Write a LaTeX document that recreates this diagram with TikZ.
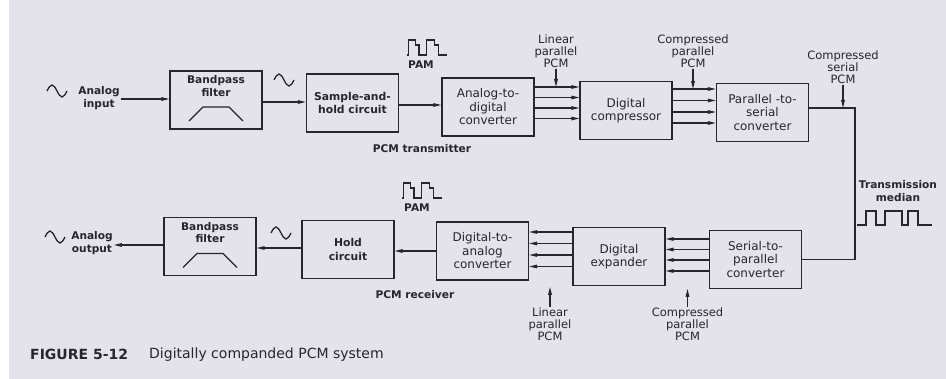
\documentclass[tikz,border=0pt]{standalone}
\usepackage{fontspec}
\setmainfont{DejaVu Sans}
\usetikzlibrary{arrows.meta,calc}
\definecolor{paper}{RGB}{228,226,234}
\definecolor{ink}{RGB}{38,38,46}
\tikzset{
  >={Triangle[length=8pt,width=3.6pt]},
  blk/.style={draw=ink,line width=1.4pt,minimum width=92pt,minimum height=58pt,inner sep=1pt,align=center,text=ink,font=\fontsize{12}{13.5}\selectfont},
  bblk/.style={blk,font=\fontsize{10.8}{13.5}\selectfont\bfseries},
  lab/.style={align=center,text=ink,inner sep=1pt,font=\fontsize{11.5}{12}\selectfont},
  blab/.style={lab,font=\fontsize{10.6}{12.8}\selectfont\bfseries},
  w/.style={draw=ink,line width=1.1pt},
  sg/.pic={\draw[ink,line width=1.3pt] (-10,0) sin (-5,-6) cos (0,0) sin (5,6) cos (10,0);},
  pam/.pic={\draw[ink,line width=1.2pt] (0,0)-|(1.6,-15)-|(9,-10)-|(12.3,0)-|(20,-15)-|(27.6,-10)-|(31.6,0)--(40,0);},
}
\begin{document}
\begin{tikzpicture}[x=1pt,y=-1pt]
\fill[paper] (0,0) rectangle (946,379); \fill[white] (0,0) rectangle (9,379);
\useasboundingbox (0,0) rectangle (946,379);
% transmitter
\node[blab] (inp) at (99,98){Analog\\input}; \pic at (57,91){sg};
\node[blk] (bpf1) at (216,100){}; \node[blab,anchor=north] (bpf1t) at ($(bpf1.north)+(0,4)$){Bandpass\\filter};
\draw[ink,line width=1.4pt] ($(bpf1)+(-27,21)$)--($(bpf1)+(-13,7)$)--($(bpf1)+(13,7)$)--($(bpf1)+(27,21)$);
\pic at (284,80){sg};
\node[bblk] (sh) at (352.5,103){Sample-and-\\hold circuit};
\pic at (406.7,55){pam}; \node[blab] (pam1) at (421,65){PAM};
\node[blk] (adc) at (488,107){Analog-to-\\digital\\converter};
\node[blk] (cmp) at (626,110.5){Digital\\compressor};
\node[blk] (p2s) at (762.5,112.5){Parallel -to-\\serial\\converter};
\node[blab] (ptx) at (422,149){PCM transmitter};
\node[lab] (lpt) at (556,51){Linear\\parallel\\PCM}; \node[lab] (cpt) at (693,51){Compressed\\parallel\\PCM};
\node[lab] (csp) at (843,67){Compressed\\serial\\PCM};
\draw[w,->] (inp.east |- 0,99)--(bpf1.west |- 0,99); \draw[w,->] (bpf1.east |- 0,102)--(sh.west |- 0,102);
\draw[w,->] (sh.east |- 0,105)--(adc.west |- 0,105);
\foreach \y in {87,97.5,108,118.5} \draw[w,->] (adc.east |- 0,\y)--(cmp.west |- 0,\y);
\foreach \y in {89,100.5,112,123} \draw[w,->] (cmp.east |- 0,\y)--(p2s.west |- 0,\y);
\draw[w,->] (lpt.south)--(lpt.south |- 0,87); \draw[w,->] (cpt.south)--(cpt.south |- 0,89);
% receiver
\node[blk] (s2p) at (755.5,259.5){Serial-to-\\parallel\\converter};
\node[blk] (exp) at (619,256.5){Digital\\expander};
\node[blk] (dac) at (482.5,251){Digital-to-\\analog\\converter};
\pic at (401.7,198){pam}; \node[blab] (pam2) at (417,208){PAM};
\node[bblk] (hold) at (348,249.5){Hold\\circuit};
\pic at (281,233){sg};
\node[blk] (bpf2) at (210,246.5){}; \node[blab,anchor=north] (bpf2t) at ($(bpf2.north)+(0,4)$){Bandpass\\filter};
\draw[ink,line width=1.4pt] ($(bpf2)+(-27,21)$)--($(bpf2)+(-13,7)$)--($(bpf2)+(13,7)$)--($(bpf2)+(27,21)$);
\node[blab] (out) at (92,243){Analog\\output}; \pic at (55,237){sg};
\node[blab] (prx) at (415,295){PCM receiver};
\node[lab] (lpb) at (550,324.5){Linear\\parallel\\PCM}; \node[lab] (cpb) at (687.5,324.5){Compressed\\parallel\\PCM};
\foreach \y in {239,249.5,260,271} \draw[w,->] (s2p.west |- 0,\y)--(exp.east |- 0,\y);
\foreach \y in {232,243.5,255,266.5} \draw[w,->] (exp.west |- 0,\y)--(dac.east |- 0,\y);
\draw[w,->] (dac.west |- 0,251)--(hold.east |- 0,251); \draw[w,->] (hold.west |- 0,248)--(bpf2.east |- 0,248);
\draw[w,->] (bpf2.west |- 0,245)--(out.east |- 0,245);
\draw[w,->] (lpb.north)--($(lpb.north)+(0,-20)$); \draw[w,->] (cpb.north)--($(cpb.north)+(0,-18)$);
% line
\coordinate (tx) at (855,108);
\draw[w] (p2s.east |- tx)--(tx) |- (s2p.east);
\draw[w,->] (csp.south)--(csp.south |- tx);
\node[blab] (tmed) at (898,191){Transmission\\median};
\draw[ink,line width=1.2pt] (857,225)-|(866,211)-|(876,225)-|(885,211)-|(902,225)-|(908,211)-|(918,225)--(932,225);
% caption
\node[anchor=west,inner sep=0pt,text=ink,font=\fontsize{14}{16}\selectfont\bfseries] (fig) at (30,354){FIGURE 5-12};
\node[anchor=west,inner sep=0pt,text=ink,font=\fontsize{14}{16}\selectfont] (cap) at (149,355){Digitally companded PCM system};
\end{tikzpicture}
\end{document}
